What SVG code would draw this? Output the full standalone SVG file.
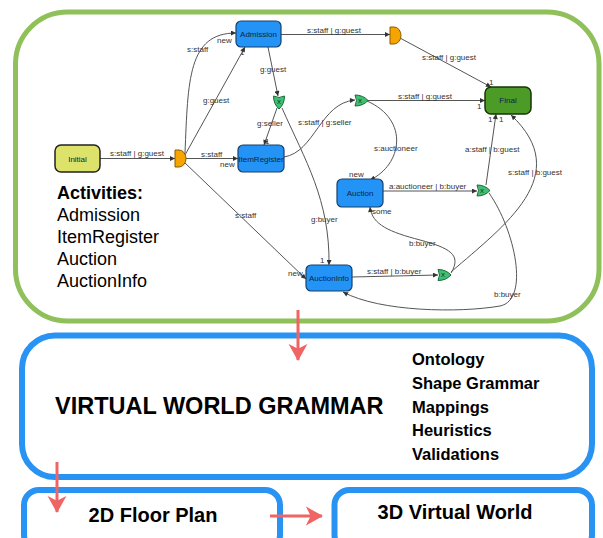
<svg xmlns="http://www.w3.org/2000/svg" width="603" height="538" viewBox="0 0 603 538">
<style>
text{font-family:"Liberation Sans",Arial,sans-serif}
.frame-g{fill:none;stroke:#8fc05a;stroke-width:5}
.frame-b{fill:none;stroke:#2893f2;stroke-width:6}
.bnode{fill:#2394f5;stroke:#17406e;stroke-width:1.2}
.ntxt{font-size:8px;fill:#0b2548;text-anchor:middle}
.edge{fill:none;stroke:#555;stroke-width:1;marker-end:url(#ah)}
.lbl{font-size:8px;fill:#333}
.red{fill:none;stroke:#ef6464;stroke-width:3;marker-end:url(#rh)}
.orgate{fill:#f6a400;stroke:#8a5a00;stroke-width:1}
.grgate{fill:#3fbf6f;stroke:#1a6a3a;stroke-width:1}
.gx{font-size:6px;fill:#123;text-anchor:middle}
.act{font-size:18px;fill:#000}
.big{font-weight:bold;fill:#000}
</style>
<defs>
<marker id="ah" viewBox="0 0 6 6" refX="6" refY="3" markerWidth="6" markerHeight="5" markerUnits="userSpaceOnUse" orient="auto"><path d="M0,0 L6,3 L0,6 Z" fill="#333"/></marker>
<marker id="rh" viewBox="0 0 18 20" refX="17" refY="10" markerWidth="17" markerHeight="20" markerUnits="userSpaceOnUse" orient="auto"><path d="M0,0 L18,10 L0,20 L5,10 Z" fill="#ef6464"/></marker>
<path id="dgate" d="M0,-8.5 L4,-8.5 A7,8.5 0 0 1 4,8.5 L0,8.5 Z"/>
<path id="xgate" d="M0,-5.5 Q3,0 0,5.5 Q8,5.5 13,0 Q8,-5.5 0,-5.5 Z"/>
</defs>

<rect class="frame-g" x="15.5" y="12" width="583.5" height="309" rx="52"/>

<g id="connectors">
<path class="edge" d="M100,158.5 L175,158.5"/>
<path class="edge" d="M185,153 C188,80 188,33 236,33"/>
<path class="edge" d="M185,155 L245,47"/>
<path class="edge" d="M186,158.5 L238,158.5"/>
<path class="edge" d="M184,162 L306,279"/>
<path class="edge" d="M281,34.5 L390,34.5"/>
<path class="edge" d="M400,38 L491,87"/>
<path class="edge" d="M268,47 L278,96"/>
<path class="edge" d="M277,108 L264,145"/>
<path class="edge" d="M282,108 C305,160 330,200 329,265"/>
<path class="edge" d="M284,157 C315,152 320,103 355,100"/>
<path class="edge" d="M367,100.5 L485,100.5"/>
<path class="edge" d="M367,101 C410,120 402,165 370,180"/>
<path class="edge" d="M383,191 L477,191"/>
<path class="edge" d="M486,185 L496,114"/>
<path class="edge" d="M489,193 C515,230 530,300 500,306 C460,313 380,312 343,292"/>
<path class="edge" d="M352,277 L438,275"/>
<path class="edge" d="M451,273 C462,255 450,248 420,240 C390,232 372,225 370,207"/>
<path class="edge" d="M451,272 C505,225 575,175 511,115"/>

<text class="lbl" x="110" y="156">s:staff | g:guest</text>
<text class="lbl" x="187" y="52">s:staff</text>
<text class="lbl" x="217" y="43">new</text>
<text class="lbl" x="203" y="103">g:guest</text>
<text class="lbl" x="240" y="55">1</text>
<text class="lbl" x="201" y="157">s:staff</text>
<text class="lbl" x="220" y="167">new</text>
<text class="lbl" x="235" y="218">s:staff</text>
<text class="lbl" x="288" y="276">new</text>
<text class="lbl" x="307" y="33">s:staff | g:guest</text>
<text class="lbl" x="422" y="60">s:staff | g:guest</text>
<text class="lbl" x="489" y="85">1</text>
<text class="lbl" x="260" y="72">g:guest</text>
<text class="lbl" x="257" y="126">g:seller</text>
<text class="lbl" x="265" y="144">1</text>
<text class="lbl" x="311" y="222">g:buyer</text>
<text class="lbl" x="320" y="263">1</text>
<text class="lbl" x="298" y="125">s:staff | g:seller</text>
<text class="lbl" x="398" y="99">s:staff | g:guest</text>
<text class="lbl" x="477" y="109">1</text>
<text class="lbl" x="374" y="151">s:auctioneer</text>
<text class="lbl" x="349" y="177">new</text>
<text class="lbl" x="389" y="189">a:auctioneer | b:buyer</text>
<text class="lbl" x="465" y="152">a:staff | b:guest</text>
<text class="lbl" x="488" y="122">1</text>
<text class="lbl" x="499" y="122">1</text>
<text class="lbl" x="494" y="297">b:buyer</text>
<text class="lbl" x="367" y="274">s:staff | b:buyer</text>
<text class="lbl" x="409" y="246">b:buyer</text>
<text class="lbl" x="372" y="214">some</text>
<text class="lbl" x="508" y="175">s:staff | b:guest</text>
<text class="lbl" x="340" y="290">1</text>
</g>

<g id="initial">
<rect x="55" y="145" width="45" height="27" rx="6" fill="#dde26a" stroke="#222" stroke-width="1.5"/>
<text class="ntxt" x="77.5" y="161.5" fill="#333">Initial</text>
</g>
<g id="admission">
<rect class="bnode" x="236" y="21" width="45" height="26" rx="5"/>
<text class="ntxt" x="258.5" y="37">Admission</text>
</g>
<g id="itemregister">
<rect class="bnode" x="238" y="145" width="46" height="27" rx="5"/>
<text class="ntxt" x="261" y="161.5">ItemRegister</text>
</g>
<g id="auction">
<rect class="bnode" x="337" y="179" width="46" height="28" rx="5"/>
<text class="ntxt" x="360" y="196">Auction</text>
</g>
<g id="auctioninfo">
<rect class="bnode" x="306" y="265" width="46" height="26" rx="5"/>
<text class="ntxt" x="329" y="281">AuctionInfo</text>
</g>
<g id="final">
<rect x="485" y="87" width="46" height="27" rx="6" fill="#4c9b26" stroke="#173508" stroke-width="1.5"/>
<text class="ntxt" x="508" y="103" fill="#10300a">Final</text>
</g>

<g id="and1"><use href="#dgate" class="orgate" transform="translate(175,158.5)"/></g>
<g id="and2"><use href="#dgate" class="orgate" transform="translate(390,35.5)"/></g>
<g id="xorA"><use href="#xgate" class="grgate" transform="translate(279,96) rotate(90)"/><text class="gx" x="279" y="104">X</text></g>
<g id="xorB"><use href="#xgate" class="grgate" transform="translate(355,100.5)"/><text class="gx" x="360" y="102.5">X</text></g>
<g id="xorC"><use href="#xgate" class="grgate" transform="translate(477,190.5)"/><text class="gx" x="482" y="192.5">X</text></g>
<g id="xorD"><use href="#xgate" class="grgate" transform="translate(438,275)"/><text class="gx" x="443" y="277">X</text></g>

<g id="activities">
<text class="act" x="57" y="199" font-weight="bold">Activities:</text>
<text class="act" x="57" y="221">Admission</text>
<text class="act" x="57" y="243">ItemRegister</text>
<text class="act" x="57" y="265">Auction</text>
<text class="act" x="57" y="287">AuctionInfo</text>
</g>

<g id="vwg">
<rect class="frame-b" x="22" y="335.5" width="570" height="141.5" rx="33"/>
<text class="big" x="55" y="414" font-size="23.5">VIRTUAL WORLD GRAMMAR</text>
<text class="big" x="412" y="365" font-size="16.5">Ontology</text>
<text class="big" x="412" y="389" font-size="16.5">Shape Grammar</text>
<text class="big" x="412" y="413" font-size="16.5">Mappings</text>
<text class="big" x="412" y="436" font-size="16.5">Heuristics</text>
<text class="big" x="412" y="460" font-size="16.5">Validations</text>
</g>
<g id="floorplan">
<rect class="frame-b" x="24" y="490" width="256" height="60" rx="15"/>
<text class="big" x="153" y="522" font-size="20" text-anchor="middle">2D Floor Plan</text>
</g>
<g id="virtualworld">
<rect class="frame-b" x="334.5" y="490" width="257.5" height="60" rx="15"/>
<text class="big" x="455" y="519" font-size="20" text-anchor="middle">3D Virtual World</text>
</g>

<g id="flow">
<path class="red" d="M298,310 L298,360"/>
<path class="red" d="M57,462 L57,512"/>
<path class="red" d="M270,516 L322,516"/>
</g>
</svg>
